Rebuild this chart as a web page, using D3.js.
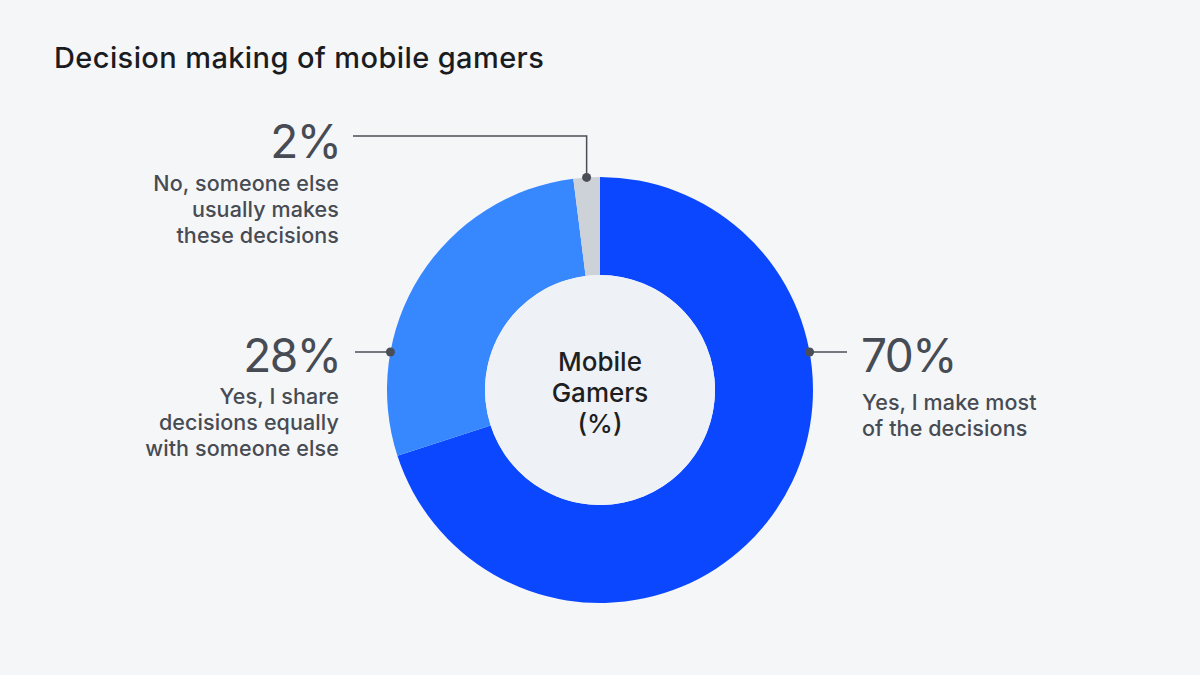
<!DOCTYPE html>
<html>
<head>
<meta charset="utf-8">
<script src="https://cdn.jsdelivr.net/npm/d3@7/dist/d3.min.js"></script>
<style>
  html, body { margin: 0; padding: 0; background: #f5f6f8; }
  svg { display: block; font-family: Inter, "Noto Sans", sans-serif; }
</style>
</head>
<body>
<svg id="chart" width="1200" height="675"></svg>
<script>
const categories = [
  "Yes, I make most of the decisions",
  "Yes, I share decisions equally with someone else",
  "No, someone else usually makes these decisions"
];
const values = [70, 28, 2];
const labelLines = [
  ["Yes, I make most", "of the decisions"],
  ["Yes, I share", "decisions equally", "with someone else"],
  ["No, someone else", "usually makes", "these decisions"]
];
const colors = ["#0a47ff", "#3787ff", "#cdd1d8"];
const title = "Decision making of mobile gamers";
const centerLines = ["Mobile", "Gamers", "(%)"];

const svg = d3.select("#chart");
const W = 1200, H = 675;
svg.append("rect").attr("width", W).attr("height", H).attr("fill", "#f5f6f8");

svg.append("text")
  .attr("x", 54).attr("y", 68)
  .attr("font-size", 29).attr("font-weight", 550)
  .attr("letter-spacing", 0.4)
  .attr("fill", "#1b1c1f")
  .text(title);

const cx = 600, cy = 390, rOuter = 213, rInner = 115;
const g = svg.append("g").attr("transform", `translate(${cx},${cy})`);

const pie = d3.pie().sort(null).value(d => d);
const arcs = pie(values);
const arc = d3.arc().innerRadius(rInner).outerRadius(rOuter);

g.selectAll("path.slice").data(arcs).enter().append("path")
  .attr("class", "slice")
  .attr("d", arc)
  .attr("fill", (d, i) => colors[i]);

g.append("circle").attr("r", rInner).attr("fill", "#eef1f6");

g.selectAll("text.center").data(centerLines).enter().append("text")
  .attr("class", "center")
  .attr("x", 0)
  .attr("y", (d, i) => -28 + i * 31 + 9)
  .attr("text-anchor", "middle")
  .attr("font-size", 26).attr("font-weight", 500)
  .attr("fill", "#1e1f22")
  .text(d => d);

const lineColor = "#4a4e56";
const textColor = "#474b53";
const pctSize = 46, pctLs = -1.5;
const subSize = 21.5, subLs = 0.1;

function outerPointAtY(y, side) {
  const dy = y - cy;
  const dx = Math.sqrt(rOuter * rOuter - dy * dy);
  return [cx + side * dx, y];
}

// 70% label (right)
{
  const ly = 352;
  const [px, py] = outerPointAtY(ly, 1);
  svg.append("line").attr("x1", px).attr("y1", py).attr("x2", 847).attr("y2", py)
    .attr("stroke", lineColor).attr("stroke-width", 1.5);
  svg.append("circle").attr("cx", px).attr("cy", py).attr("r", 4.5).attr("fill", lineColor);
  svg.append("text").attr("x", 861).attr("y", 372)
    .attr("font-size", pctSize).attr("letter-spacing", pctLs).attr("font-weight", 400).attr("fill", textColor)
    .text(values[0] + "%");
  labelLines[0].forEach((t, i) => {
    svg.append("text").attr("x", 862).attr("y", 410 + i * 26)
      .attr("font-size", subSize).attr("letter-spacing", subLs).attr("font-weight", 500).attr("fill", textColor).text(t);
  });
}

// 28% label (left)
{
  const ly = 352;
  const [px, py] = outerPointAtY(ly, -1);
  svg.append("line").attr("x1", 355).attr("y1", py).attr("x2", px).attr("y2", py)
    .attr("stroke", lineColor).attr("stroke-width", 1.5);
  svg.append("circle").attr("cx", px).attr("cy", py).attr("r", 4.5).attr("fill", lineColor);
  svg.append("text").attr("x", 339 - pctLs).attr("y", 372).attr("text-anchor", "end")
    .attr("font-size", pctSize).attr("letter-spacing", pctLs).attr("font-weight", 400).attr("fill", textColor)
    .text(values[1] + "%");
  labelLines[1].forEach((t, i) => {
    svg.append("text").attr("x", 339).attr("y", 404 + i * 26).attr("text-anchor", "end")
      .attr("font-size", subSize).attr("letter-spacing", subLs).attr("font-weight", 500).attr("fill", textColor).text(t);
  });
}

// 2% label (top-left)
{
  const a = arcs[2];
  const mid = (a.startAngle + a.endAngle) / 2;
  const px = cx + rOuter * Math.sin(mid);
  const py = cy - rOuter * Math.cos(mid);
  const ly = 136;
  svg.append("path")
    .attr("d", `M353,${ly} H${px} V${py}`)
    .attr("fill", "none").attr("stroke", lineColor).attr("stroke-width", 1.5);
  svg.append("circle").attr("cx", px).attr("cy", py).attr("r", 4.5).attr("fill", lineColor);
  svg.append("text").attr("x", 339 - pctLs).attr("y", 158).attr("text-anchor", "end")
    .attr("font-size", pctSize).attr("letter-spacing", pctLs).attr("font-weight", 400).attr("fill", textColor)
    .text(values[2] + "%");
  labelLines[2].forEach((t, i) => {
    svg.append("text").attr("x", 339).attr("y", 191 + i * 26).attr("text-anchor", "end")
      .attr("font-size", subSize).attr("letter-spacing", subLs).attr("font-weight", 500).attr("fill", textColor).text(t);
  });
}
</script>
</body>
</html>
